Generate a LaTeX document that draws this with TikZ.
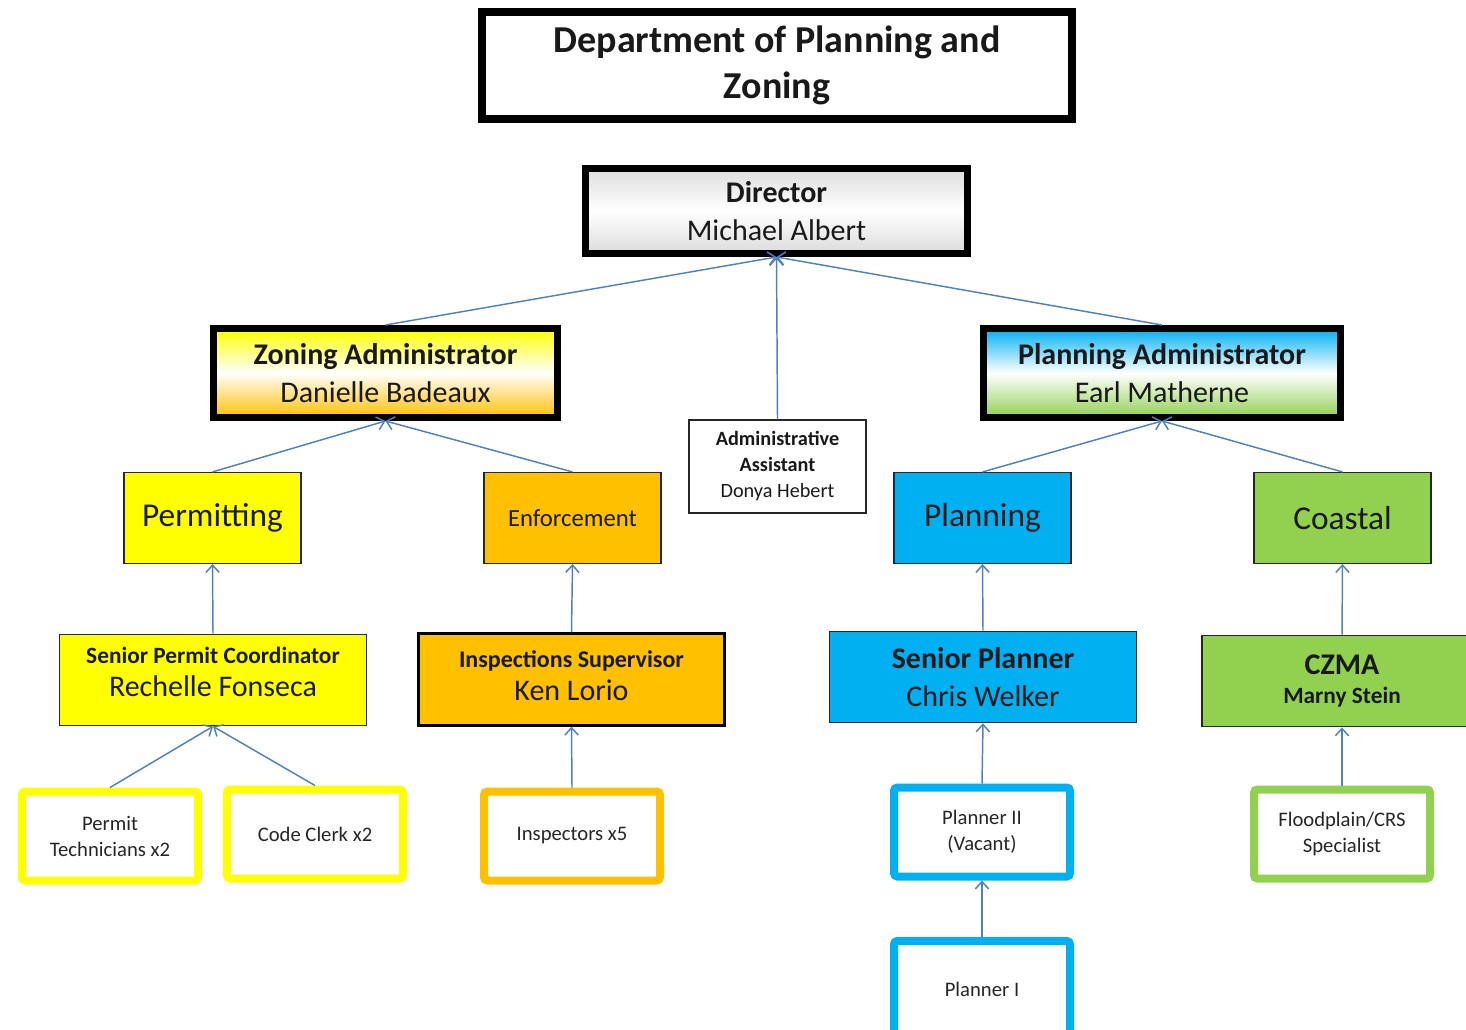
\documentclass[tikz,border=0pt]{standalone}
\usepackage{fontspec}
\setmainfont{Carlito}
\usetikzlibrary{arrows.meta}
\definecolor{zyellow}{HTML}{FFFF00}
\definecolor{zorange}{HTML}{FFC000}
\definecolor{pblue}{HTML}{00B0F0}
\definecolor{pgreen}{HTML}{92D050}
\definecolor{linkblue}{HTML}{4F81BD}
\newcommand{\fsz}[2]{\fontsize{#1}{#2}\selectfont}
\tikzset{
  headbox/.style={draw=black, line width=5.25pt, align=center, text=black!90,
    minimum width=#1, minimum height=66.75pt},
  unitbox/.style={draw=black!85, line width=1.1pt, fill=#1, align=center,
    text=black!90, minimum width=133pt, minimum height=68pt},
  leadbox/.style={draw=black!85, line width=1.1pt, fill=#1, align=center,
    text=black!90, minimum width=230pt, minimum height=68.5pt},
  staffbox/.style={draw=#1, line width=6pt, rounded corners=2.5pt, fill=white,
    align=center, text=black!85, minimum width=132pt, minimum height=66.75pt,
    font=\fsz{15.5}{19.5}},
  link/.style={draw=linkblue, line width=1.1pt,
    -{Straight Barb[length=5.5pt,width=10pt,line width=1.1pt]}}
}
\begin{document}
\begin{tikzpicture}[x=0.75pt,y=-0.75pt]
\useasboundingbox (0,0) rectangle (1466,1030);
% heading
\node (title) at (777,65.5) [draw=black, line width=6pt, align=center,
  minimum width=442.5pt, minimum height=80.25pt, text=black!90,
  font=\fsz{28.5}{35}\bfseries] {Department of Planning and\\Zoning};
% director and administrators
\node (dir) at (776.5,211) [headbox=286.5pt, minimum height=63.75pt,
  top color=black!13, bottom color=black!14, middle color=white,
  font=\fsz{22.5}{28}] {\textbf{Director}\\Michael Albert};
\node (zadm) at (385.5,373) [headbox=258pt, top color=zyellow,
  bottom color=zorange, middle color=white,
  font=\fsz{22.5}{28}] {\textbf{Zoning Administrator}\\Danielle Badeaux};
\node (padm) at (1162,373) [headbox=267.75pt, top color=pblue,
  bottom color=pgreen, middle color=white,
  font=\fsz{22.5}{28}] {\textbf{Planning Administrator}\\Earl Matherne};
\node (asst) at (777.5,466.5) [draw=black!85, line width=1.1pt, align=center,
  text=black!90, minimum width=132.75pt, minimum height=69.75pt,
  font=\fsz{15.2}{19.5}] {\textbf{Administrative}\\\textbf{Assistant}\\Donya Hebert};
% sections
\node (perm) at (212.5,518) [unitbox=zyellow, font=\fsz{25}{30}] {Permitting};
\node (enf)  at (572.5,518) [unitbox=zorange, font=\fsz{18.5}{22}] {Enforcement};
\node (plan) at (982.5,518) [unitbox=pblue, font=\fsz{25}{30}] {Planning};
\node (coast) at (1342.5,518) [unitbox=pgreen, font=\fsz{25}{30}] {Coastal};
% section leads
\node (spc) at (213,680) [leadbox=zyellow, text depth=12pt, font=\fsz{22.5}{25}]
  {{\fsz{17.5}{25}\bfseries Senior Permit Coordinator}\\Rechelle Fonseca};
\node (isup) at (571.5,679.5) [leadbox=zorange, draw=black, line width=2.25pt,
  text depth=6pt, font=\fsz{22.5}{25}]
  {{\fsz{18}{25}\bfseries Inspections Supervisor}\\Ken Lorio};
\node (splan) at (983,677) [leadbox=pblue, font=\fsz{22.5}{28}]
  {\textbf{Senior Planner}\\Chris Welker};
\node (czma) at (1342,681) [leadbox=pgreen, minimum width=210pt,
  font=\fsz{22.5}{22}\bfseries] {CZMA\\{\fsz{17.5}{22}\bfseries Marny Stein}};
% staff
\node (ptech) at (110,836) [staffbox=zyellow] {Permit\\Technicians x2};
\node (clerk) at (315,834) [staffbox=zyellow] {Code Clerk x2};
\node (insp) at (572,836) [staffbox=zorange] {Inspectors x5};
\node (plII) at (982,832) [staffbox=pblue] {Planner II\\(Vacant)};
\node (plI) at (982,989) [staffbox=pblue, minimum height=72pt] {Planner I};
\node (flood) at (1342,834) [staffbox=pgreen] {Floodplain/CRS\\Specialist};
% connectors
\draw[link] (zadm.north) -- (dir.south);
\draw[link] (asst.north) -- (dir.south);
\draw[link] (padm.north) -- (dir.south);
\draw[link] (perm.north) -- (zadm.south);
\draw[link] (enf.north) -- (zadm.south);
\draw[link] (plan.north) -- (padm.south);
\draw[link] (coast.north) -- (padm.south);
\draw[link] (spc.north) -- (perm.south);
\draw[link] (isup.north) -- (enf.south);
\draw[link] (splan.north) -- (plan.south);
\draw[link] (czma.north) -- (coast.south);
\draw[link] (ptech.north) -- (spc.south);
\draw[link] (clerk.north) -- (spc.south);
\draw[link] (insp.north) -- (isup.south);
\draw[link] (plII.north) -- (splan.south);
\draw[link] (plI.north) -- (plII.south);
\draw[link] (flood.north) -- (czma.south);
\end{tikzpicture}
\end{document}
